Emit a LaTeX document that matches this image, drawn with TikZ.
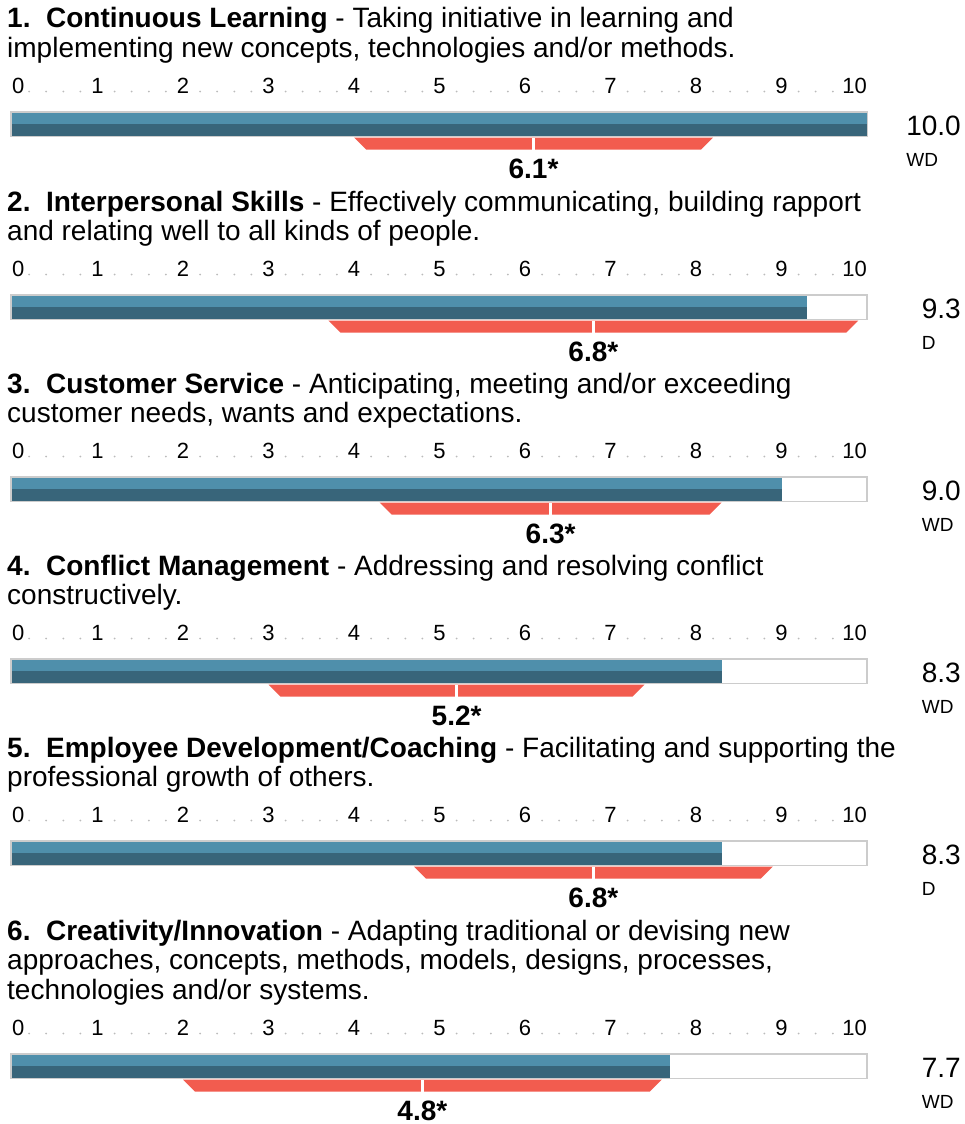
\documentclass[tikz,border=0pt]{standalone}
\usepackage{fontspec}
\setmainfont{Liberation Sans}
\usetikzlibrary{calc}
\definecolor{barlight}{HTML}{4F8FAB}
\definecolor{bardark}{HTML}{38657A}
\definecolor{rangered}{HTML}{F25C4F}
\definecolor{framegray}{HTML}{CCCCCC}
\definecolor{dotgray}{HTML}{BBBBBB}
\tikzset{
  titletext/.style={anchor=base west, inner sep=0pt, font=\fontsize{28}{29.5}\selectfont},
  scalelabel/.style={anchor=base, inner sep=0pt, font=\fontsize{22}{24}\selectfont},
  valuetext/.style={anchor=base east, inner sep=0pt, font=\fontsize{28}{30}\selectfont},
  ratingtext/.style={anchor=base west, inner sep=0pt, font=\fontsize{19}{21}\selectfont},
  meantext/.style={anchor=base, inner sep=0pt, font=\bfseries\fontsize{28}{30}\selectfont},
  barframe/.style={draw=framegray, line width=1.5pt, fill=white},
}
\newcommand\skillbar[7]{%
  \pgfmathsetmacro\vx{12+85.5*#3}%
  \pgfmathsetmacro\mx{12+85.5*#5}%
  \pgfmathsetmacro\lx{12+85.5*#6}%
  \pgfmathsetmacro\rx{12+85.5*#7}%
  \node[scalelabel, anchor=base west] (#1-s0) at (12,#2-18) {0};
  \foreach \i in {1,...,9}{\node[scalelabel] (#1-s\i) at ({12+85.5*\i},#2-18) {\i};}
  \node[scalelabel, anchor=base east] (#1-s10) at (867,#2-18) {10};
  \foreach \i in {0,...,9}{\foreach \j in {1,...,4}{\fill[dotgray] ({12+85.5*(\i+\j/5)},#2-19.5) circle (1pt);}}
  \draw[barframe] (11,#2+0.75) rectangle (867,#2+25.25);
  \fill[barlight] (11.75,#2+1.5) rectangle (\vx,#2+12.7);
  \fill[bardark] (11.75,#2+12.7) rectangle (\vx,#2+24.5);
  \fill[rangered] (\lx,#2+26.5) -- (\rx,#2+26.5) -- (\rx-12,#2+38.5) -- (\lx+12,#2+38.5) -- cycle;
  \fill[white] (\mx-1.2,#2+26.5) rectangle (\mx+1.2,#2+38.5);
  \node[meantext] (#1-mean) at (\mx,#2+67) {#5*};
  \node[valuetext] (#1-val) at (961,#2+24) {#3};
  \node[ratingtext] (#1-rate) at ($(#1-val.base west)+(0,31)$) {#4};
}
\begin{document}
\begin{tikzpicture}[x=1pt,y=-1pt]
\useasboundingbox[fill=white] (0,0) rectangle (964,1124);

% 1
\node[titletext] (a-t1) at (7,28) {\textbf{1.\ \ Continuous Learning} - Taking initiative in learning and};
\node[titletext] (a-t2) at (7,57.5) {implementing new concepts, technologies and/or methods.};
\skillbar{a}{111}{10.0}{WD}{6.1}{4.0}{8.2}

% 2
\node[titletext] (b-t1) at (7,211) {\textbf{2.\ \ Interpersonal Skills} - Effectively communicating, building rapport};
\node[titletext] (b-t2) at (7,240.5) {and relating well to all kinds of people.};
\skillbar{b}{294}{9.3}{D}{6.8}{3.7}{9.9}

% 3
\node[titletext] (c-t1) at (7,393) {\textbf{3.\ \ Customer Service} - Anticipating, meeting and/or exceeding};
\node[titletext] (c-t2) at (7,422.5) {customer needs, wants and expectations.};
\skillbar{c}{476}{9.0}{WD}{6.3}{4.3}{8.3}

% 4
\node[titletext] (d-t1) at (7,575) {\textbf{4.\ \ Conflict Management} - Addressing and resolving conflict};
\node[titletext] (d-t2) at (7,604.5) {constructively.};
\skillbar{d}{658}{8.3}{WD}{5.2}{3.0}{7.4}

% 5
\node[titletext] (e-t1) at (7,757) {\textbf{5.\ \ Employee Development/Coaching} - Facilitating and supporting the};
\node[titletext] (e-t2) at (7,786.5) {professional growth of others.};
\skillbar{e}{840}{8.3}{D}{6.8}{4.7}{8.9}

% 6
\node[titletext] (f-t1) at (7,940) {\textbf{6.\ \ Creativity/Innovation} - Adapting traditional or devising new};
\node[titletext] (f-t2) at (7,969.5) {approaches, concepts, methods, models, designs, processes,};
\node[titletext] (f-t3) at (7,999) {technologies and/or systems.};
\skillbar{f}{1053}{7.7}{WD}{4.8}{2.0}{7.6}
\end{tikzpicture}
\end{document}
